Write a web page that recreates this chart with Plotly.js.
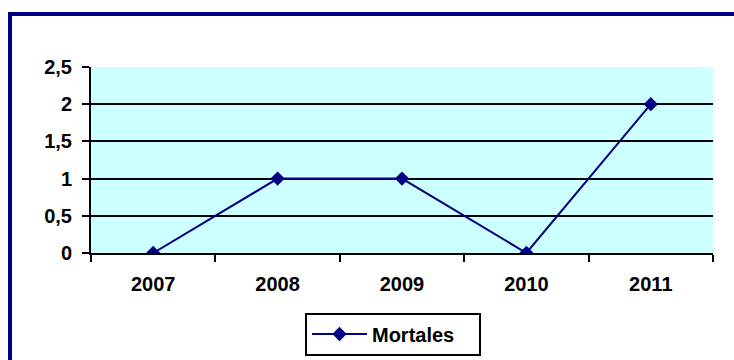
<!DOCTYPE html>
<html>
<head>
<meta charset="utf-8">
<script src="https://cdn.plot.ly/plotly-3.0.1.min.js"></script>
<style>
html,body{margin:0;padding:0;background:#fff;}
#chart{width:734px;height:360px;}
</style>
</head>
<body>
<div id="chart"></div>
<script>
var years = ['2007', '2008', '2009', '2010', '2011'];
var mortales = [0, 1, 1, 0, 2];
var seriesName = 'Mortales';

var navy = '#000080';
var fontFam = 'Arial, "Liberation Sans", Helvetica, sans-serif';
var tf = {family: fontFam, size: 20, color: '#000', weight: 'bold'};

var trace = {
  x: years,
  y: mortales,
  name: seriesName,
  type: 'scatter',
  mode: 'lines+markers',
  line: {color: navy, width: 2},
  marker: {symbol: 'diamond', size: 11, color: navy},
  showlegend: true
};

var layout = {
  width: 734,
  height: 360,
  margin: {l: 91, r: 21, t: 67, b: 107, autoexpand: false},
  paper_bgcolor: '#ffffff',
  plot_bgcolor: '#ccffff',
  separators: ',.',
  font: tf,
  xaxis: {
    type: 'category',
    range: [-0.5, 4.5],
    showgrid: false,
    zeroline: false,
    showline: true,
    linecolor: '#000',
    linewidth: 2,
    ticks: 'outside',
    tickson: 'boundaries',
    ticklen: 7,
    tickwidth: 2,
    tickcolor: '#000',
    ticklabelstandoff: 12,
    tickfont: tf,
    fixedrange: true
  },
  xaxis2: {
    overlaying: 'x',
    side: 'top',
    showline: true,
    linecolor: '#a6d8d8',
    linewidth: 2,
    showgrid: false,
    zeroline: false,
    showticklabels: false,
    ticks: '',
    range: [0, 1]
  },
  yaxis: {
    range: [0, 2.5],
    dtick: 0.5,
    tick0: 0,
    showgrid: true,
    gridcolor: '#000',
    gridwidth: 2,
    zeroline: false,
    showline: true,
    linecolor: '#000',
    linewidth: 2,
    ticks: 'outside',
    ticklen: 7,
    tickwidth: 2,
    tickcolor: '#000',
    ticklabelstandoff: 6,
    tickfont: tf,
    fixedrange: true
  },
  legend: {
    orientation: 'h',
    x: 0.4855,
    xanchor: 'center',
    y: -0.32,
    yanchor: 'top',
    bordercolor: '#000',
    borderwidth: 2,
    bgcolor: '#fff',
    itemwidth: 55,
    entrywidth: 102,
    font: tf
  },
  shapes: [{
    type: 'rect',
    xref: 'paper', yref: 'paper',
    x0: -0.1302, x1: 1.3,
    y0: -1.2, y1: 1.2849,
    line: {color: navy, width: 4},
    fillcolor: 'rgba(0,0,0,0)',
    layer: 'above'
  }]
};

Plotly.newPlot('chart', [trace], layout, {displayModeBar: false, staticPlot: true});
</script>
</body>
</html>
